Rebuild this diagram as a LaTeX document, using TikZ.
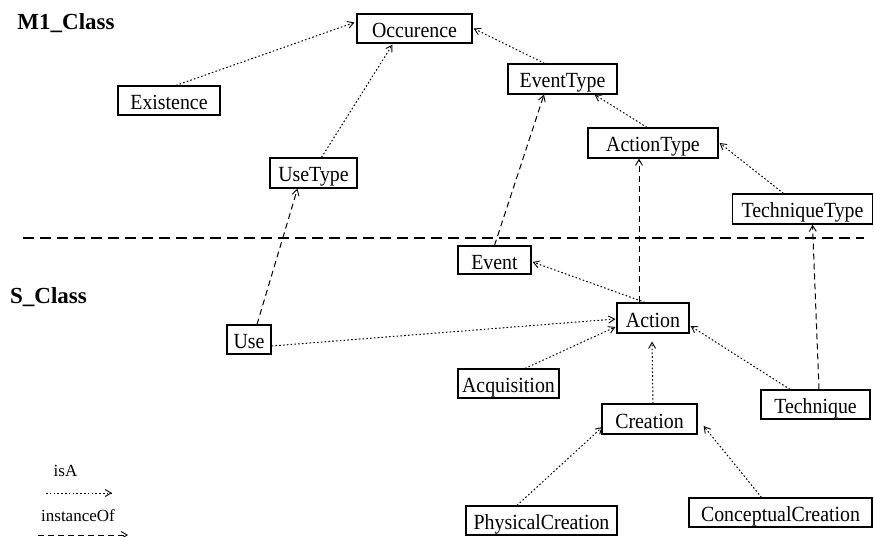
\documentclass[tikz,border=0pt]{standalone}
\usepackage{fontspec}
\setmainfont{Liberation Serif}
\newfontfamily\clsfont[FakeStretch=0.92]{Liberation Serif}
\usetikzlibrary{arrows.meta,calc}

\tikzset{
  cls/.style={draw, line width=1.2pt, inner sep=0pt, minimum height=29pt,
    text height=20pt, text depth=2pt,
    font=\clsfont\fontsize{21.6}{21.6}\selectfont},
  isa/.style={line width=1pt, dash pattern=on 1.6pt off 2.2pt,
    -{Straight Barb[length=6pt,width=7pt,line width=0.9pt]}},
  inst/.style={line width=1pt, dash pattern=on 6pt off 4pt,
    -{Straight Barb[length=6pt,width=7pt,line width=0.9pt]}},
  layer/.style={font=\fontsize{23}{23}\selectfont\bfseries},
  legendtext/.style={font=\fontsize{17}{17}\selectfont},
  separator/.style={line width=2.6pt, dash pattern=on 11pt off 6pt}
}

\begin{document}
\begin{tikzpicture}[x=1pt,y=-1pt]
\useasboundingbox (0,0) rectangle (874,537);

% layer titles
\node[layer] (m1) at (66,23) {M1\_Class};
\node[layer] (s) at (48.5,297) {S\_Class};

% boundary between the two layers
\coordinate (sepL) at (23,238);
\coordinate (sepR) at (864,238);
\draw[separator] (sepL) -- (sepR);

% M1 classes
\node[cls, minimum width=115pt] (occ) at (414.5,28.5) {Occurence};
\node[cls, minimum width=102pt] (exist) at (169,100.5) {Existence};
\node[cls, minimum width=87pt, minimum height=30pt] (usetype) at (313.5,173) {UseType};
\node[cls, minimum width=109pt, minimum height=30pt] (evtype) at (562.5,79) {EventType};
\node[cls, minimum width=130pt, minimum height=30pt] (acttype) at (653,143) {ActionType};
\node[cls, minimum width=140pt, minimum height=30pt] (techtype) at (802.5,209) {TechniqueType};

% S classes
\node[cls, minimum width=73pt, minimum height=28pt] (event) at (494.5,260) {Event};
\node[cls, minimum width=72pt, minimum height=30pt] (action) at (653,318) {Action};
\node[cls, minimum width=44pt] (use) at (249,339.5) {Use};
\node[cls, minimum width=101pt] (acq) at (508.5,383.5) {Acquisition};
\node[cls, minimum width=95pt, minimum height=30pt] (creation) at (649.5,419) {Creation};
\node[cls, minimum width=109pt] (tech) at (815.5,404.5) {Technique};
\node[cls, minimum width=151pt] (phys) at (541.5,520.5) {PhysicalCreation};
\node[cls, minimum width=183pt] (concept) at (780.5,512.5) {ConceptualCreation};

% isA links
\draw[isa] ($(exist.north)+(7,0)$) -- ($(occ.west)+(-2,-6)$);
\draw[isa] ($(usetype.north)+(8,0)$) -- ($(occ.south)+(-22,1)$);
\draw[isa] ($(evtype.north)+(-18,0)$) -- ($(occ.east)+(1,0)$);
\draw[isa] ($(acttype.north)+(-6,0)$) -- ($(evtype.south)+(32,0)$);
\draw[isa] ($(techtype.north)+(-19,0)$) -- ($(acttype.east)+(1,0)$);
\draw[isa] ($(action.north)+(-8,0)$) -- ($(event.east)+(1,2)$);
\draw[isa] ($(use.east)+(0,6.5)$) -- ($(action.west)+(-1,1)$);
\draw[isa] ($(acq.north)+(16.5,0)$) -- ($(action.west)+(-1,9)$);
\draw[isa] ($(creation.north)+(3.5,0)$) -- ($(action.south)+(-1,8)$);
\draw[isa] ($(tech.north)+(-25.5,0)$) -- ($(action.east)+(1,8)$);
\draw[isa] ($(phys.north)+(-24.5,0)$) -- ($(creation.west)+(1,8)$);
\draw[isa] ($(concept.north)+(-19,0)$) -- ($(creation.east)+(6,7)$);

% instanceOf links
\draw[inst] (event.north) -- ($(evtype.south)+(-18.5,0)$);
\draw[inst] ($(use.north)+(8,0)$) -- ($(usetype.south)+(-16,0)$);
\draw[inst] ($(action.north)+(-14,0)$) -- ($(acttype.south)+(-14,0)$);
\draw[inst] ($(tech.north)+(3.5,0)$) -- ($(techtype.south)+(10,0)$);

% legend
\node[legendtext] (lisa) at (65.5,471) {isA};
\coordinate (isaA) at (46,493);
\coordinate (isaB) at (112,493);
\draw[isa] (isaA) -- (isaB);
\node[legendtext] (linst) at (78,516) {instanceOf};
\coordinate (instA) at (38,535);
\coordinate (instB) at (128,535);
\draw[inst] (instA) -- (instB);
\end{tikzpicture}
\end{document}
